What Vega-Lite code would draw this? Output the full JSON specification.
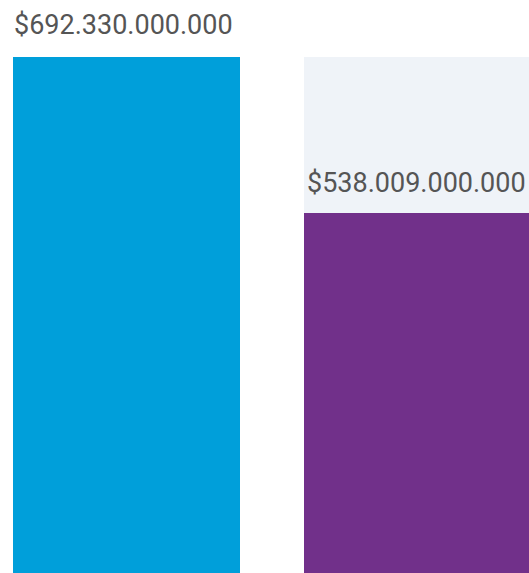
{
  "$schema": "https://vega.github.io/schema/vega-lite/v6.json",
  "padding": {"left": 13, "top": 12, "right": 0, "bottom": 0},
  "background": "white",
  "config": {"view": {"stroke": null}, "text": {"font": "Roboto", "fontSize": 27, "fontWeight": "normal", "color": "#555555"}},
  "spacing": 64,
  "datasets": {
    "vals": [
      {"name": "A", "value": 692330000000, "max": 692330000000, "label": "$692.330.000.000"},
      {"name": "B", "value": 538009000000, "max": 771150000000, "label": "$538.009.000.000"}
    ]
  },
  "hconcat": [
    {
      "width": 227,
      "height": 516,
      "data": {"name": "vals"},
      "transform": [{"filter": "datum.name === 'A'"}],
      "encoding": {
        "x": {"field": "name", "type": "nominal", "axis": null, "scale": {"paddingInner": 0, "paddingOuter": 0}}
      },
      "layer": [
        {
          "mark": {"type": "bar", "color": "#009FDA"},
          "encoding": {"y": {"field": "value", "type": "quantitative", "axis": null, "scale": {"domain": [0, 692330000000], "nice": false}}}
        },
        {
          "mark": {"type": "text", "align": "left", "baseline": "alphabetic", "dx": 1, "dy": -23, "clip": false},
          "encoding": {
            "x": {"field": "name", "type": "nominal", "bandPosition": 0},
            "y": {"field": "value", "type": "quantitative"},
            "text": {"field": "label"}
          }
        }
      ]
    },
    {
      "width": 225,
      "height": 516,
      "data": {"name": "vals"},
      "transform": [{"filter": "datum.name === 'B'"}],
      "encoding": {
        "x": {"field": "name", "type": "nominal", "axis": null, "scale": {"paddingInner": 0, "paddingOuter": 0}}
      },
      "layer": [
        {
          "mark": {"type": "bar", "color": "#EFF3F8"},
          "encoding": {"y": {"field": "max", "type": "quantitative", "axis": null, "scale": {"domain": [0, 771150000000], "nice": false}}}
        },
        {
          "mark": {"type": "bar", "color": "#71308A"},
          "encoding": {"y": {"field": "value", "type": "quantitative"}}
        },
        {
          "mark": {"type": "text", "align": "left", "baseline": "alphabetic", "dx": 3, "dy": -21, "clip": false},
          "encoding": {
            "x": {"field": "name", "type": "nominal", "bandPosition": 0},
            "y": {"field": "value", "type": "quantitative"},
            "text": {"field": "label"}
          }
        }
      ]
    }
  ]
}
